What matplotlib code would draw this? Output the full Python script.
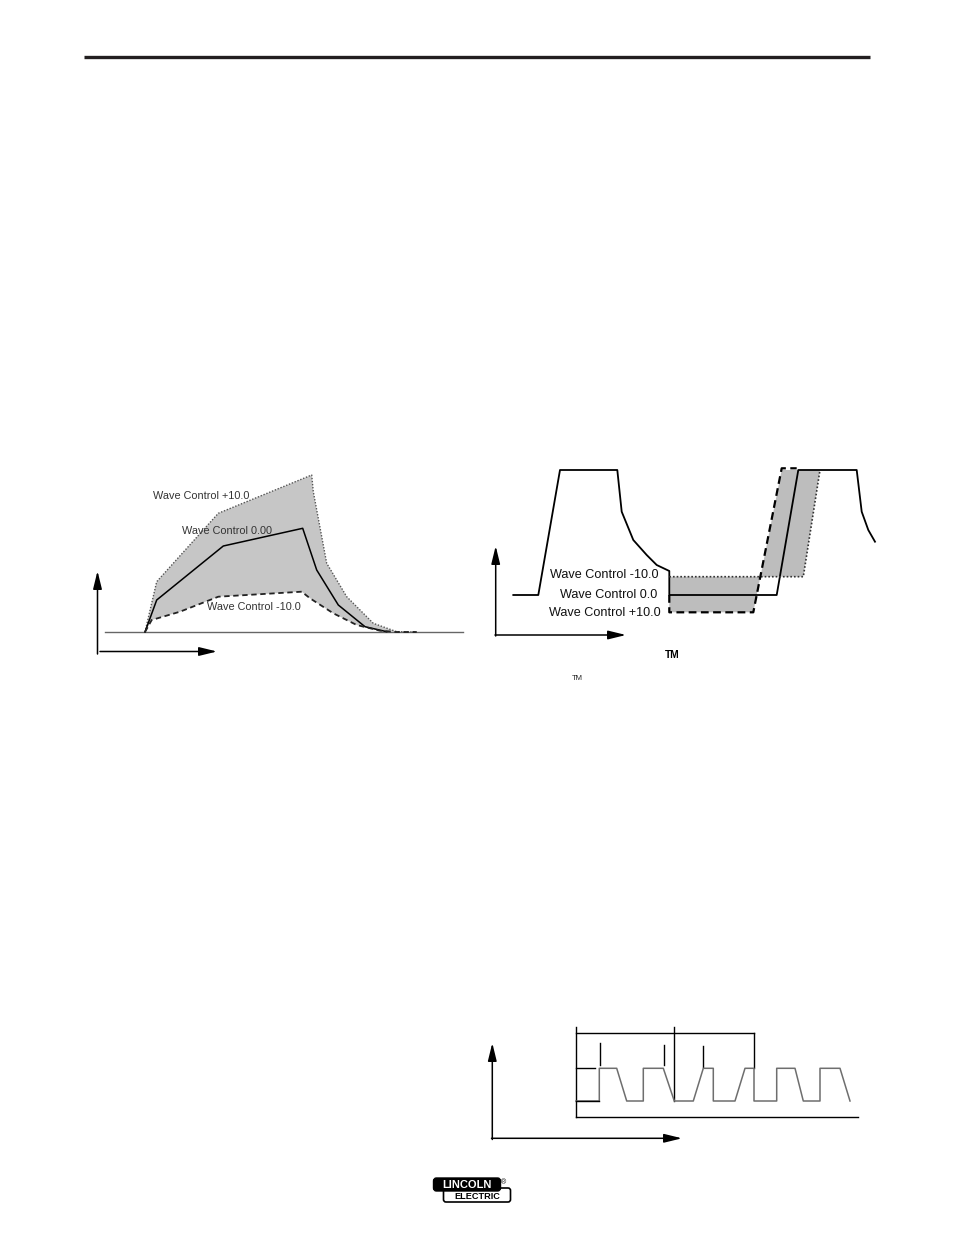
import matplotlib
matplotlib.use('Agg')
import matplotlib.pyplot as plt
from matplotlib.patches import Polygon, FancyBboxPatch

plt.rcParams['font.family'] = ['Liberation Sans', 'DejaVu Sans']

# Diagram 1: wave control effect on pulse shape (page pixel coords)
d1_base_x = [105, 463]
d1_base_y = [632, 632]
d1_up_x = [145, 156.7, 218.3, 311.7, 313.3, 326.7, 346.7, 373.3, 396.7, 416.7]
d1_up_y = [632, 581.7, 513.3, 475, 491.7, 563.3, 596.7, 623.3, 631.7, 632]
d1_mid_x = [145, 156.7, 223.3, 302.7, 316.7, 338.3, 365, 386.7]
d1_mid_y = [632, 600, 546, 528.3, 570, 605, 626.7, 631.7]
d1_low_x = [145, 151.7, 180, 218.3, 301.7, 310, 333.3, 356.7, 380, 396.7, 416.7]
d1_low_y = [632, 620, 611.7, 596.7, 591.7, 598.3, 613.3, 625, 630.7, 632, 632]
d1_labels = ['Wave Control +10.0', 'Wave Control 0.00', 'Wave Control -10.0']
d1_label_x = [153, 182, 207]
d1_label_y = [496, 531, 606.5]

# Diagram 2: wave control effect on background
d2_solid_x = [513.3, 538.3, 560, 617.3, 621.7, 633.3, 646.7, 656.7, 669.3, 669.3,
              776.7, 798.3, 856.7, 861.7, 868.3, 875]
d2_solid_y = [595, 595, 470, 470, 511.7, 540, 555, 565, 571, 595,
              595, 470, 470, 511.7, 530, 541.7]
d2_dot_x = [669.3, 803.3, 820]
d2_dot_y = [576.7, 576.7, 470]
d2_dash_x = [669.3, 669.3, 753.3, 781.7, 796.7]
d2_dash_y = [595, 612.3, 612.3, 468.3, 468.3]
d2_shade_x = [669.3, 803.3, 820, 781.7, 753.3, 669.3]
d2_shade_y = [576.7, 576.7, 470, 470, 612.3, 612.3]
d2_labels = ['Wave Control -10.0', 'Wave Control 0.0', 'Wave Control +10.0']
d2_label_x = [659, 657, 661]
d2_label_y = [575, 595, 613]

# Diagram 3: pulse train
d3_wave_x = [576, 599.3, 599.3, 616.7, 626.7, 643.3, 643.3, 663.3, 674.3, 693.3, 703.3, 713.3,
             713.3, 735, 745, 754, 754, 776.7, 776.7, 795, 803.3, 820, 820, 840, 850]
d3_wave_y = [1101, 1101, 1068.3, 1068.3, 1101, 1101, 1068.3, 1068.3, 1101, 1101, 1068.3, 1068.3,
             1101, 1101, 1068.3, 1068.3, 1101, 1101, 1068.3, 1068.3, 1101, 1101, 1068.3, 1068.3, 1101]

fig = plt.figure(figsize=(9.54, 12.35), dpi=100)
ax = fig.add_axes([0, 0, 1, 1])
ax.set_xlim(0, 954)
ax.set_ylim(1235, 0)
ax.axis('off')

# header rule
ax.plot([84, 870], [56.5, 56.5], color='#231f20', lw=2.4, solid_capstyle='butt')

arrow = dict(arrowstyle='-|>,head_length=0.9,head_width=0.22', color='black', lw=1.1,
             mutation_scale=12, shrinkA=0, shrinkB=0)

# ---- diagram 1
shade_x = d1_up_x + d1_low_x[::-1]
shade_y = d1_up_y + d1_low_y[::-1]
ax.add_patch(Polygon(list(zip(shade_x, shade_y)), closed=True,
                     facecolor='#c6c6c6', edgecolor='none'))
ax.plot(d1_base_x, d1_base_y, color='#666666', lw=1.0)
ax.plot(d1_up_x, d1_up_y, color='#555555', lw=1.0, ls=(0, (1, 1.2)))
ax.plot(d1_mid_x, d1_mid_y, color='black', lw=1.1)
ax.plot(d1_low_x, d1_low_y, color='#222222', lw=1.3, ls=(0, (3, 2)))
for t, x, y in zip(d1_labels, d1_label_x, d1_label_y):
    ax.text(x, y, t, fontsize=7.8, color='#333333', va='center', ha='left')
ax.annotate('', xy=(97.5, 571), xytext=(97.5, 654), arrowprops=arrow)
ax.annotate('', xy=(217, 651.5), xytext=(100, 651.5), arrowprops=arrow)

# ---- diagram 2
ax.add_patch(Polygon(list(zip(d2_shade_x, d2_shade_y)), closed=True,
                     facecolor='#bdbdbd', edgecolor='none'))
ax.plot(d2_solid_x, d2_solid_y, color='black', lw=1.3)
ax.plot(d2_dot_x, d2_dot_y, color='#333333', lw=1.2, ls=(0, (1, 1.2)))
ax.plot(d2_dash_x, d2_dash_y, color='black', lw=1.6, ls=(0, (3.5, 2)))
for t, x, y in zip(d2_labels, d2_label_x, d2_label_y):
    ax.text(x, y, t, fontsize=9.1, color='#111111', va='center', ha='right')
ax.annotate('', xy=(495.7, 546), xytext=(495.7, 636), arrowprops=arrow)
ax.annotate('', xy=(626, 635), xytext=(495, 635), arrowprops=arrow)
ax.text(672, 655, 'TM', fontsize=7.4, fontweight='bold', ha='center', va='center')
ax.text(577, 678, 'TM', fontsize=5.5, ha='center', va='center', color='#222222')

# ---- diagram 3
ax.plot([576, 576], [1026.7, 1117.3], color='black', lw=1.0)
ax.plot([576, 858.3], [1117.3, 1117.3], color='black', lw=1.0)
ax.plot([576, 754], [1033.3, 1033.3], color='black', lw=1.0)
ax.plot([674.3, 674.3], [1027.3, 1101], color='black', lw=1.0)
ax.plot([754, 754], [1033.3, 1068.3], color='black', lw=1.0)
for x, y0, y1 in [(600, 1043.3, 1065), (664, 1045, 1065), (703.3, 1046, 1066.7)]:
    ax.plot([x, x], [y0, y1], color='black', lw=1.0)
ax.plot([576, 595], [1068.3, 1068.3], color='black', lw=1.0)
ax.plot(d3_wave_x, d3_wave_y, color='#6e6e6e', lw=1.1)
ax.plot([576, 599.3], [1101, 1101], color='black', lw=1.0)
ax.annotate('', xy=(492.3, 1043), xytext=(492.3, 1139.5), arrowprops=arrow)
ax.annotate('', xy=(682, 1138.3), xytext=(491.5, 1138.3), arrowprops=arrow)

# ---- logo
ax.add_patch(FancyBboxPatch((443.5, 1188), 67, 14, boxstyle='round,pad=0,rounding_size=2.5',
                            facecolor='white', edgecolor='black', lw=1.2))
ax.add_patch(FancyBboxPatch((433.5, 1178), 67, 13, boxstyle='round,pad=0,rounding_size=3',
                            facecolor='black', edgecolor='black', lw=1.0))
ax.text(467, 1184.8, 'LINCOLN', color='white', fontsize=8.0, fontweight='bold',
        ha='center', va='center')
ax.text(477, 1196.5, 'ELECTRIC', color='black', fontsize=6.6, fontweight='bold',
        ha='center', va='center')
ax.text(503.5, 1183.3, '®', color='black', fontsize=5, ha='center', va='center')

fig.savefig('out.png', dpi=100)
